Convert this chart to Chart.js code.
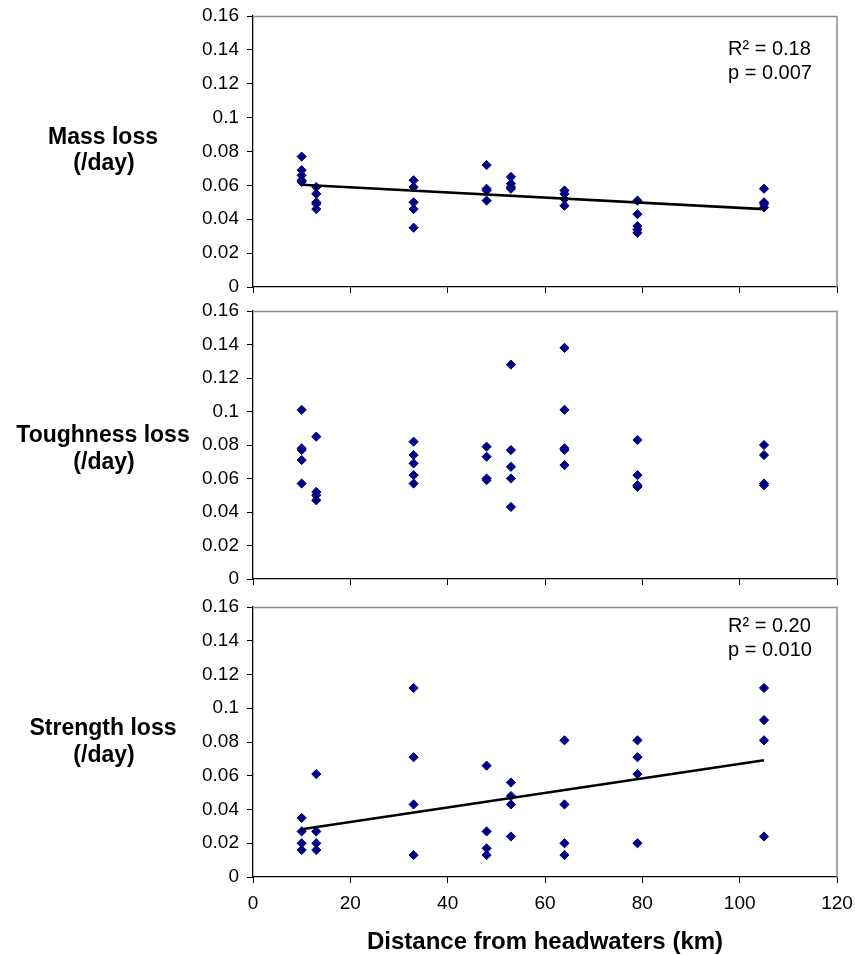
<!DOCTYPE html>
<html>
<head>
<meta charset="utf-8">
<script src="https://cdn.jsdelivr.net/npm/chart.js@4"></script>
<style>
  html, body { margin: 0; padding: 0; background: #fff; }
  #wrap { position: relative; width: 855px; height: 955px; background: #fff; }
  canvas { position: absolute; left: 0; }
</style>
</head>
<body>
<div id="wrap">
  <canvas id="c1" width="855" height="300" style="top:0px;width:855px;height:300px"></canvas>
  <canvas id="c2" width="855" height="302" style="top:290px;width:855px;height:302px"></canvas>
  <canvas id="c3" width="855" height="365" style="top:590px;width:855px;height:365px"></canvas>
</div>
<script>
// ---------------- data ----------------
const distanceKm = [10, 13, 33, 48, 53, 64, 79, 105];

const massLoss = [
  [0.077, 0.069, 0.066, 0.063, 0.062],
  [0.059, 0.055, 0.050, 0.049, 0.046],
  [0.063, 0.059, 0.050, 0.046, 0.035],
  [0.072, 0.058, 0.057, 0.051],
  [0.065, 0.061, 0.059, 0.058],
  [0.057, 0.055, 0.052, 0.048],
  [0.051, 0.043, 0.036, 0.034, 0.032],
  [0.058, 0.050, 0.049, 0.047]
];

const toughnessLoss = [
  [0.101, 0.078, 0.077, 0.071, 0.057],
  [0.085, 0.052, 0.050, 0.047],
  [0.082, 0.074, 0.069, 0.062, 0.057],
  [0.079, 0.073, 0.060, 0.059],
  [0.128, 0.077, 0.067, 0.060, 0.043],
  [0.138, 0.101, 0.078, 0.077, 0.068],
  [0.083, 0.062, 0.056, 0.055],
  [0.080, 0.074, 0.057, 0.056]
];

const strengthLoss = [
  [0.035, 0.027, 0.020, 0.016],
  [0.061, 0.027, 0.020, 0.016],
  [0.112, 0.071, 0.043, 0.013],
  [0.066, 0.027, 0.017, 0.013],
  [0.056, 0.048, 0.043, 0.024],
  [0.081, 0.043, 0.020, 0.013],
  [0.081, 0.071, 0.061, 0.020],
  [0.112, 0.093, 0.081, 0.024]
];

const trendX = [10, 105];
const massTrendY = [0.0604, 0.0460];
const strengthTrendY = [0.0283, 0.0692];

const yTickLabels = ['0', '0.02', '0.04', '0.06', '0.08', '0.1', '0.12', '0.14', '0.16'];
const xTickLabels = ['0', '20', '40', '60', '80', '100', '120'];

const massStats = ['R\u00B2 = 0.18', 'p = 0.007'];
const strengthStats = ['R\u00B2 = 0.20', 'p = 0.010'];

const titles = [
  ['Mass loss', '(/day)'],
  ['Toughness loss', '(/day)'],
  ['Strength loss', '(/day)']
];
const xTitle = 'Distance from headwaters (km)';

// ---------------- helpers ----------------
const FONT = "'Liberation Sans', Arial, Helvetica, sans-serif";
Chart.defaults.font.family = FONT;
Chart.defaults.color = '#000';

function toPoints(groups) {
  const pts = [];
  groups.forEach((vals, i) => vals.forEach(v => pts.push({ x: distanceKm[i], y: v })));
  return pts;
}
function trendPoints(ys) {
  return trendX.map((x, i) => ({ x: x, y: ys[i] }));
}

const framePlugin = {
  id: 'frame',
  beforeDatasetsDraw(chart) {
    const { ctx, chartArea: a } = chart;
    ctx.save();
    ctx.strokeStyle = '#8a8a8a';
    ctx.lineWidth = 1.5;
    ctx.beginPath();
    ctx.moveTo(a.left, Math.round(a.top) + 0.5);
    ctx.lineTo(a.right, Math.round(a.top) + 0.5);
    ctx.lineTo(a.right, a.bottom);
    ctx.stroke();
    ctx.restore();
  },
  afterDraw(chart, args, opts) {
    const { ctx, chartArea: a } = chart;
    ctx.save();
    ctx.fillStyle = '#000';
    ctx.textAlign = 'center';
    ctx.textBaseline = 'alphabetic';
    ctx.font = 'bold 23px ' + FONT;
    const cy = (a.top + a.bottom) / 2;
    ctx.fillText(opts.title[0], 103, cy + opts.titleDy[0]);
    ctx.fillText(opts.title[1], 104, cy + opts.titleDy[1]);
    if (opts.stats) {
      ctx.textAlign = 'left';
      ctx.font = '20px ' + FONT;
      ctx.fillText(opts.stats[0], 728, a.top + opts.statsDy[0]);
      ctx.fillText(opts.stats[1], 728, a.top + opts.statsDy[1]);
    }
    ctx.restore();
  }
};

function makeChart(id, groups, trendYs, cfg) {
  const datasets = [];
  if (trendYs) {
    datasets.push({
      type: 'line',
      data: trendPoints(trendYs),
      borderColor: '#000',
      borderWidth: 2.6,
      pointRadius: 0,
      fill: false,
      tension: 0
    });
  }
  datasets.push({
    type: 'scatter',
    data: toPoints(groups),
    pointStyle: 'rectRot',
    pointRadius: 4.6,
    backgroundColor: '#000080',
    borderColor: '#000080',
    borderWidth: 1
  });

  return new Chart(document.getElementById(id), {
    data: { datasets },
    plugins: [framePlugin],
    options: {
      responsive: false,
      animation: false,
      devicePixelRatio: 1,
      layout: { autoPadding: false, padding: { left: 0, right: 18, top: cfg.padTop, bottom: 0 } },
      plugins: {
        legend: { display: false },
        tooltip: { enabled: false },
        frame: { title: cfg.title, titleDy: cfg.titleDy, stats: cfg.stats, statsDy: cfg.statsDy }
      },
      scales: {
        x: {
          type: 'linear',
          min: 0, max: 120,
          afterFit(s) { s.height = cfg.xHeight; s.paddingLeft = 0; s.paddingRight = 0; },
          ticks: {
            stepSize: 20,
            display: cfg.showX,
            padding: 9,
            font: { size: 19 },
            maxRotation: 0,
            callback: (v, i) => xTickLabels[i]
          },
          grid: { drawOnChartArea: false, drawTicks: true, tickLength: 6, color: '#000', lineWidth: 1 },
          border: { display: true, color: '#000', width: 1.3 },
          title: cfg.showX ? {
            display: true, text: xTitle,
            font: { size: 24, weight: 'bold', lineHeight: 1.0 },
            padding: { top: 0, bottom: 1 }
          } : { display: false }
        },
        y: {
          type: 'linear',
          min: 0, max: 0.16,
          afterFit(s) { s.width = 253; s.paddingTop = 0; s.paddingBottom = 0; },
          ticks: {
            stepSize: 0.02,
            padding: 8,
            font: { size: 19 },
            callback: (v, i) => yTickLabels[i]
          },
          grid: { drawOnChartArea: false, drawTicks: true, tickLength: 6, color: '#000', lineWidth: 1 },
          border: { display: true, color: '#000', width: 1.3 }
        }
      }
    }
  });
}

makeChart('c1', massLoss, massTrendY, {
  padTop: 16, xHeight: 13, showX: false,
  title: titles[0], titleDy: [-7.5, 18.5],
  stats: massStats, statsDy: [39, 63]
});
makeChart('c2', toughnessLoss, null, {
  padTop: 21, xHeight: 13, showX: false,
  title: titles[1], titleDy: [-3, 24],
  stats: null, statsDy: null
});
makeChart('c3', strengthLoss, strengthTrendY, {
  padTop: 17, xHeight: 78, showX: true,
  title: titles[2], titleDy: [-7, 20],
  stats: strengthStats, statsDy: [25, 49]
});
</script>
</body>
</html>
